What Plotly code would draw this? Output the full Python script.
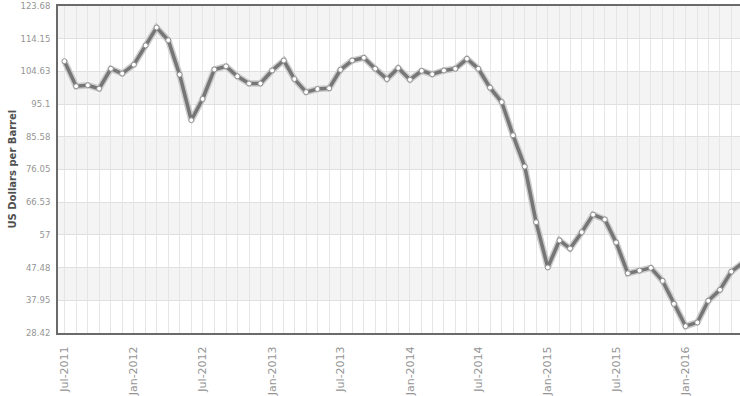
import pandas as pd
import plotly.graph_objects as go

# Monthly average crude oil price, US$ per barrel, Jul-2011 onwards
prices = [
    107.6, 100.3, 100.6, 99.6, 105.4, 104.0,
    106.6, 112.2, 117.4, 113.7, 103.7, 90.4,
    96.6, 105.2, 106.1, 103.2, 101.1, 101.1,
    104.9, 107.8, 102.4, 98.6, 99.5, 99.7,
    105.1, 107.8, 108.6, 105.4, 102.4, 105.6,
    102.2, 104.8, 103.8, 104.9, 105.4, 108.3,
    105.4, 99.9, 95.7, 86.0, 76.9, 60.7,
    47.5, 55.4, 53.0, 57.8, 62.9, 61.5,
    54.8, 45.8, 46.6, 47.4, 43.6, 36.9,
    30.4, 31.5, 37.8, 41.0, 46.3, 48.9,
]
months = pd.date_range("2011-07-01", periods=len(prices), freq="MS")

y_ticks = [28.42, 37.95, 47.48, 57.0, 66.53, 76.05, 85.58, 95.1, 104.63, 114.15, 123.68]
y_tick_text = ["28.42", "37.95", "47.48", "57", "66.53", "76.05", "85.58", "95.1", "104.63", "114.15", "123.68"]
y_title = "US Dollars per Barrel"

fig = go.Figure()

# soft halo under the line
fig.add_trace(go.Scatter(
    x=months, y=prices, mode="lines",
    line=dict(color="#cccccc", width=6.5),
    hoverinfo="skip", showlegend=False,
))
fig.add_trace(go.Scatter(
    x=months, y=prices, mode="lines+markers",
    line=dict(color="#767676", width=3.5),
    marker=dict(size=5, color="white", line=dict(color="#909090", width=1)),
    showlegend=False,
))

# alternating horizontal bands, shaded from the top band down
shapes = []
for i in range(len(y_ticks) - 1):
    if (len(y_ticks) - 2 - i) % 2 == 0:
        shapes.append(dict(
            type="rect", xref="paper", yref="y", layer="below",
            x0=0, x1=1, y0=y_ticks[i], y1=y_ticks[i + 1],
            fillcolor="#f4f4f4", line=dict(width=0),
        ))

fig.update_layout(
    width=740, height=396,
    margin=dict(l=58, r=0, t=6, b=61),
    paper_bgcolor="white", plot_bgcolor="white",
    font=dict(family="DejaVu Sans", color="#959595"),
    shapes=shapes,
    annotations=[dict(
        text=f"<b>{y_title}</b>", textangle=-90,
        xref="paper", yref="paper", x=-46 / 682, y=0.5,
        xanchor="center", yanchor="middle", showarrow=False,
        font=dict(family="DejaVu Sans", size=10, color="#505050"),
    )],
)

fig.update_xaxes(
    type="date",
    range=["2011-06-14", "2016-05-24"],
    tick0="2011-07-01", dtick="M6", tickformat="%b-%Y",
    tickangle=-90, tickfont=dict(size=11, color="#959595"),
    ticks="", ticklabelstandoff=7,
    showgrid=True, gridcolor="#e6e6e6", gridwidth=1,
    minor=dict(dtick="M1", showgrid=True, gridcolor="#e6e6e6", gridwidth=1),
    showline=True, linecolor="#6a6a6a", linewidth=2, mirror=True,
    zeroline=False,
)
fig.update_yaxes(
    range=[y_ticks[0], y_ticks[-1]],
    tickvals=y_ticks, ticktext=y_tick_text,
    tickfont=dict(size=8.5, color="#959595"),
    ticks="", ticklabelstandoff=4,
    showgrid=True, gridcolor="#e0e0e0", gridwidth=1,
    showline=True, linecolor="#6a6a6a", linewidth=2,
    zeroline=False,
)

fig.write_html("out.html")
